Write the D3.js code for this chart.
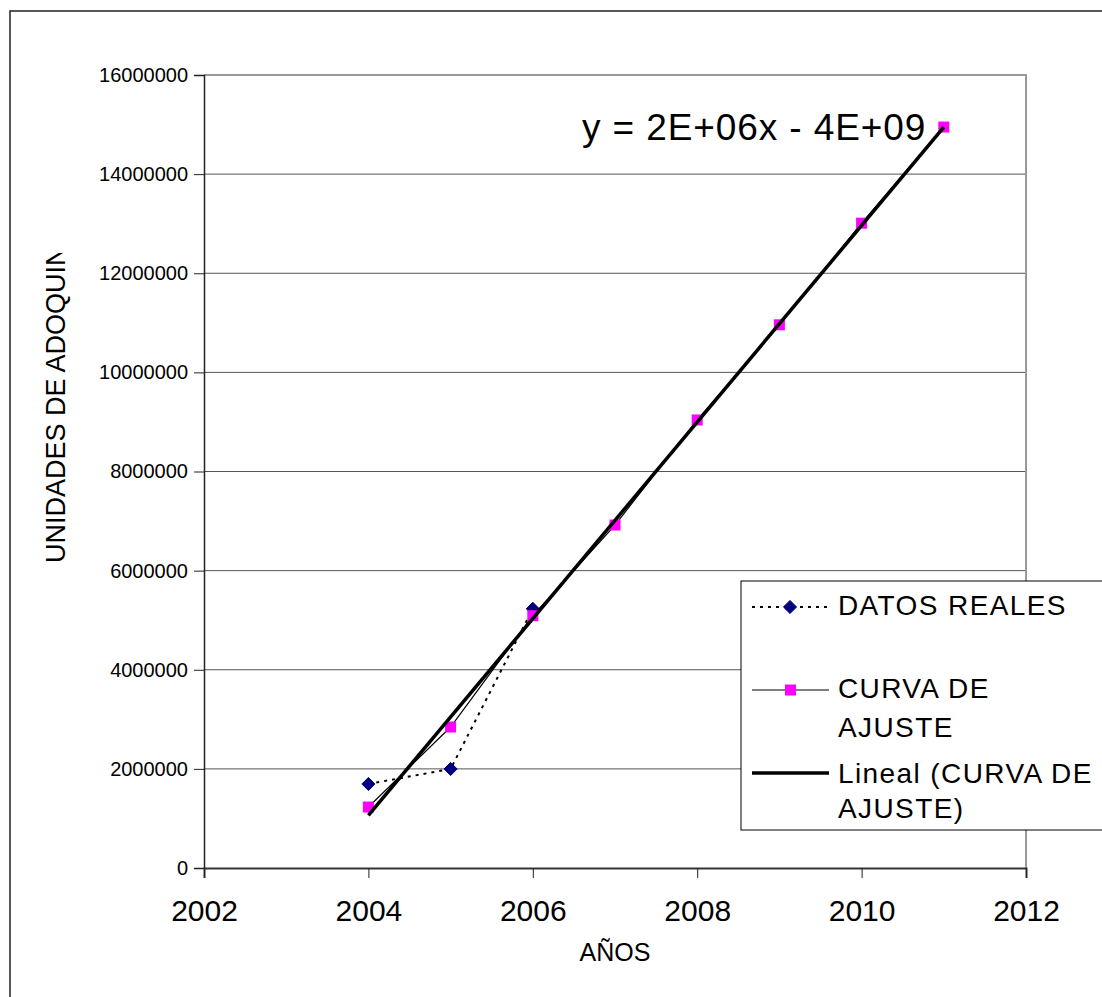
<!DOCTYPE html>
<html><head><meta charset="utf-8">
<script src="https://cdn.jsdelivr.net/npm/d3@7"></script>
<style>html,body{margin:0;padding:0;background:#fff;overflow:hidden}svg{display:block;font-family:Arial,"Liberation Sans",sans-serif}</style>
</head><body>
<svg id="c" width="1102" height="997"></svg>
<script>
const years = [2004, 2005, 2006, 2007, 2008, 2009, 2010, 2011];
const datosYears = [2004, 2005, 2006];
const datosReales = [1695000, 1998000, 5230000];
const curvaAjuste = [1230000, 2845000, 5090000, 6920000, 9040000, 10960000, 13010000, 14950000];
const xTicks = [2002, 2004, 2006, 2008, 2010, 2012];
const yTicks = [0, 2000000, 4000000, 6000000, 8000000, 10000000, 12000000, 14000000, 16000000];
const legendLabels = [["DATOS REALES"], ["CURVA DE", "AJUSTE"], ["Lineal (CURVA DE", "AJUSTE)"]];
const equationText = "y = 2E+06x - 4E+09";
const xTitle = "AÑOS";
const yTitle = "UNIDADES DE ADOQUIN";

const svg = d3.select("#c");
const L = 204, R = 1026, T = 75, B = 868;
const x = d3.scaleLinear().domain([2002, 2012]).range([L, R]);
const y = d3.scaleLinear().domain([0, 16000000]).range([B, T]);

// outer chart border
svg.append("rect").attr("x", 10).attr("y", 11).attr("width", 1200).attr("height", 1200)
  .attr("fill", "#fff").attr("stroke", "#222").attr("stroke-width", 1.5);

// gridlines
svg.append("g").selectAll("line").data(yTicks.filter(d => d > 0 && d < 16000000)).join("line")
  .attr("x1", L).attr("x2", R).attr("y1", d => y(d)).attr("y2", d => y(d))
  .attr("stroke", "#555").attr("stroke-width", 1);

// plot border (top/right)
svg.append("path").attr("d", `M${L},${T}H${R}V${B}`).attr("fill", "none")
  .attr("stroke", "#999").attr("stroke-width", 2);

// axes
const yAxis = d3.axisLeft(y).tickValues(yTicks).tickSize(10).tickPadding(6).tickFormat(d3.format("d"));
const gy = svg.append("g").attr("transform", `translate(${L},0)`).call(yAxis);
gy.select(".domain").attr("stroke", "#222").attr("stroke-width", 1.5);
gy.selectAll(".tick line").attr("stroke", "#222");
gy.selectAll("text").attr("font-size", 20).attr("fill", "#000").attr("font-family", "Arial, 'Liberation Sans', sans-serif");

const xAxis = d3.axisBottom(x).tickValues(xTicks).tickSize(10).tickPadding(22).tickFormat(d3.format("d"));
const gx = svg.append("g").attr("transform", `translate(0,${B})`).call(xAxis);
gx.select(".domain").attr("stroke", "#333").attr("stroke-width", 2);
gx.selectAll(".tick line").attr("stroke", "#222");
gx.selectAll("text").attr("font-size", 30).attr("fill", "#000").attr("font-family", "Arial, 'Liberation Sans', sans-serif");

// axis titles
svg.append("text").attr("x", 615).attr("y", 961).attr("text-anchor", "middle")
  .attr("font-size", 25).text(xTitle);
svg.append("clipPath").attr("id", "yclip").append("rect")
  .attr("x", 0).attr("y", 253).attr("width", 120).attr("height", 400);
svg.append("g").attr("clip-path", "url(#yclip)").append("text")
  .attr("transform", "translate(65,563) rotate(-90)").attr("text-anchor", "start")
  .attr("font-size", 27).text(yTitle);

// series 1: DATOS REALES (dotted)
const line1 = d3.line().x((d, i) => x(datosYears[i])).y(d => y(d));
svg.append("path").datum(datosReales).attr("d", line1).attr("fill", "none")
  .attr("stroke", "#000").attr("stroke-width", 2).attr("stroke-dasharray", "3,5");
const diamond = d3.symbol().type(d3.symbolDiamond2).size(110);
svg.append("g").selectAll("path").data(datosReales).join("path")
  .attr("transform", (d, i) => `translate(${x(datosYears[i])},${y(d)})`)
  .attr("d", diamond).attr("fill", "#000080").attr("stroke", "#000080").attr("stroke-width", 1);

// series 2: CURVA DE AJUSTE
const line2 = d3.line().x((d, i) => x(years[i])).y(d => y(d));
svg.append("path").datum(curvaAjuste).attr("d", line2).attr("fill", "none")
  .attr("stroke", "#000").attr("stroke-width", 1.2);
svg.append("g").selectAll("rect").data(curvaAjuste).join("rect")
  .attr("x", (d, i) => x(years[i]) - 5.5).attr("y", d => y(d) - 5.5)
  .attr("width", 11).attr("height", 11).attr("fill", "#ff00ff");

// linear trendline (least squares on CURVA DE AJUSTE)
const mx = d3.mean(years), my = d3.mean(curvaAjuste);
const slope = d3.sum(years, (v, i) => (v - mx) * (curvaAjuste[i] - my)) / d3.sum(years, v => (v - mx) ** 2);
const icpt = my - slope * mx;
const trendX = [years[0], years[years.length - 1]];
svg.append("path").datum(trendX)
  .attr("d", d3.line().x(d => x(d)).y(d => y(icpt + slope * d)))
  .attr("fill", "none").attr("stroke", "#000").attr("stroke-width", 3.5);

// equation
svg.append("text").attr("x", 582).attr("y", 140).attr("font-size", 37)
  .attr("letter-spacing", 0.9).text(equationText);

// legend
const lg = svg.append("g");
lg.append("rect").attr("x", 741).attr("y", 581).attr("width", 400).attr("height", 249)
  .attr("fill", "#fff").attr("stroke", "#000").attr("stroke-width", 1);
const legY = [607, 690, 773];
const legBase = [[615], [698, 737], [783, 818]];
// entry 1
lg.append("line").attr("x1", 752).attr("x2", 827).attr("y1", legY[0]).attr("y2", legY[0])
  .attr("stroke", "#000").attr("stroke-width", 2).attr("stroke-dasharray", "3,5");
lg.append("path").attr("transform", `translate(790,${legY[0]})`).attr("d", diamond)
  .attr("fill", "#000080").attr("stroke", "#000080");
// entry 2
lg.append("line").attr("x1", 752).attr("x2", 829).attr("y1", legY[1]).attr("y2", legY[1])
  .attr("stroke", "#000").attr("stroke-width", 1.2);
lg.append("rect").attr("x", 785).attr("y", legY[1] - 5.5).attr("width", 11).attr("height", 11).attr("fill", "#ff00ff");
// entry 3
lg.append("line").attr("x1", 752).attr("x2", 829).attr("y1", legY[2]).attr("y2", legY[2])
  .attr("stroke", "#000").attr("stroke-width", 3.5);
legendLabels.forEach((lines, k) => {
  lines.forEach((t, j) => {
    lg.append("text").attr("x", 838).attr("y", legBase[k][j]).attr("font-size", 28)
      .attr("letter-spacing", 1.4).text(t);
  });
});
</script>
</body></html>
